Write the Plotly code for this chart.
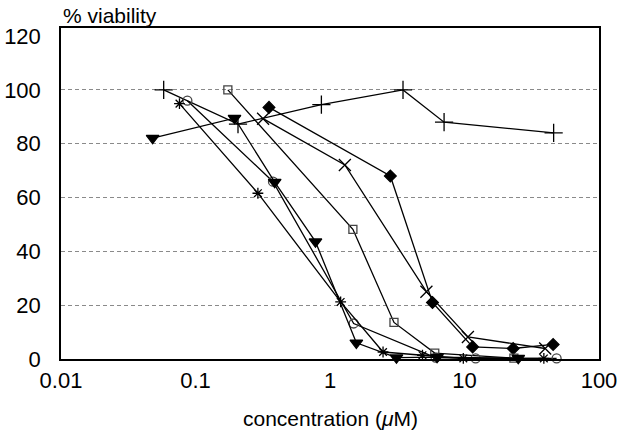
import plotly.graph_objects as go

# ---- data ----
plus_x = [0.058, 0.207, 0.863, 3.49, 7.05, 46]
plus_y = [100, 87.3, 94.5, 100, 88, 84]

cross_x = [0.318, 1.29, 5.21, 10.6, 39.8]
cross_y = [89.3, 72.1, 25.0, 8.2, 3.9]

diamond_x = [0.352, 2.81, 5.78, 11.5, 23.0, 45.6]
diamond_y = [93.5, 68.0, 21.0, 4.5, 3.9, 5.4]

square_x = [0.174, 1.48, 2.99, 6.01, 23.3]
square_y = [100, 48.2, 13.6, 2.2, 0.3]

circle_x = [0.087, 0.377, 1.50, 6.1, 12.1, 48.4]
circle_y = [96.0, 65.9, 13.2, 0.5, 0.2, 0.2]

tri_x = [0.048, 0.195, 0.388, 0.78, 1.57, 3.12, 6.25, 25.1]
tri_y = [82.1, 89.5, 65.7, 43.6, 6.0, 0.5, 0.7, 0.3]

ast_x = [0.076, 0.291, 1.20, 2.48, 4.87, 9.8, 38.9]
ast_y = [94.9, 61.6, 21.2, 2.6, 1.4, 0.2, 0.2]

x_ticks = [0.01, 0.1, 1, 10, 100]
x_tick_text = ["0.01", "0.1", "1", "10", "100"]
y_ticks = [0, 20, 40, 60, 80, 100, 120]
y_grid = [20, 40, 60, 80, 100]

FONT = "Liberation Sans, Arial, sans-serif"

series = [
    (plus_x, plus_y, "cross-thin-open", 13, "black"),
    (cross_x, cross_y, "x-thin-open", 12, "black"),
    (diamond_x, diamond_y, "diamond", 9, "black"),
    (square_x, square_y, "square-open", 8, "#444444"),
    (circle_x, circle_y, "circle-open", 9, "#444444"),
    (tri_x, tri_y, "triangle-down", 11, "black"),
    (ast_x, ast_y, "asterisk-open", 9, "black"),
]

fig = go.Figure()
for xs, ys, sym, size, col in series:
    fig.add_trace(go.Scatter(
        x=xs, y=ys, mode="lines+markers",
        line=dict(color="black", width=1.3),
        marker=dict(symbol=sym, size=size, color=col,
                    line=dict(color=col, width=1.3)),
        showlegend=False, cliponaxis=False,
    ))

fig.update_layout(
    width=620, height=431,
    margin=dict(l=61, r=21, t=28, b=72, autoexpand=False),
    paper_bgcolor="white", plot_bgcolor="white",
    font=dict(family=FONT, color="black"),
    xaxis=dict(
        type="log", range=[-2, 2], automargin=False,
        tickmode="array", tickvals=x_ticks, ticktext=x_tick_text,
        tickfont=dict(size=22), ticks="", ticklabelstandoff=1,
        showgrid=False, zeroline=False,
        showline=True, linecolor="black", linewidth=1.5, mirror=True,
    ),
    yaxis=dict(
        range=[0, 123], tickmode="array", tickvals=y_ticks, automargin=False,
        tickfont=dict(size=22), ticks="", ticklabelstandoff=14,
        showgrid=False, zeroline=False,
        showline=True, linecolor="black", linewidth=1.5, mirror=True,
        minor=dict(tickmode="array", tickvals=y_grid, showgrid=True,
                   gridcolor="#8a8a8a", gridwidth=1, griddash="4px,3px",
                   ticks=""),
    ),
    annotations=[
        dict(text="% viability", xref="paper", yref="paper", x=0, y=1.038,
             xanchor="left", yanchor="middle", showarrow=False,
             font=dict(size=21, family=FONT)),
        dict(text="concentration (<i>μ</i>M)", xref="paper", yref="paper",
             x=0.5, y=-0.181, xanchor="center", yanchor="middle",
             showarrow=False, font=dict(size=21, family=FONT)),
    ],
)

fig.write_html("out.html", config={"displayModeBar": False},
               post_script="document.body.style.margin='0';")
